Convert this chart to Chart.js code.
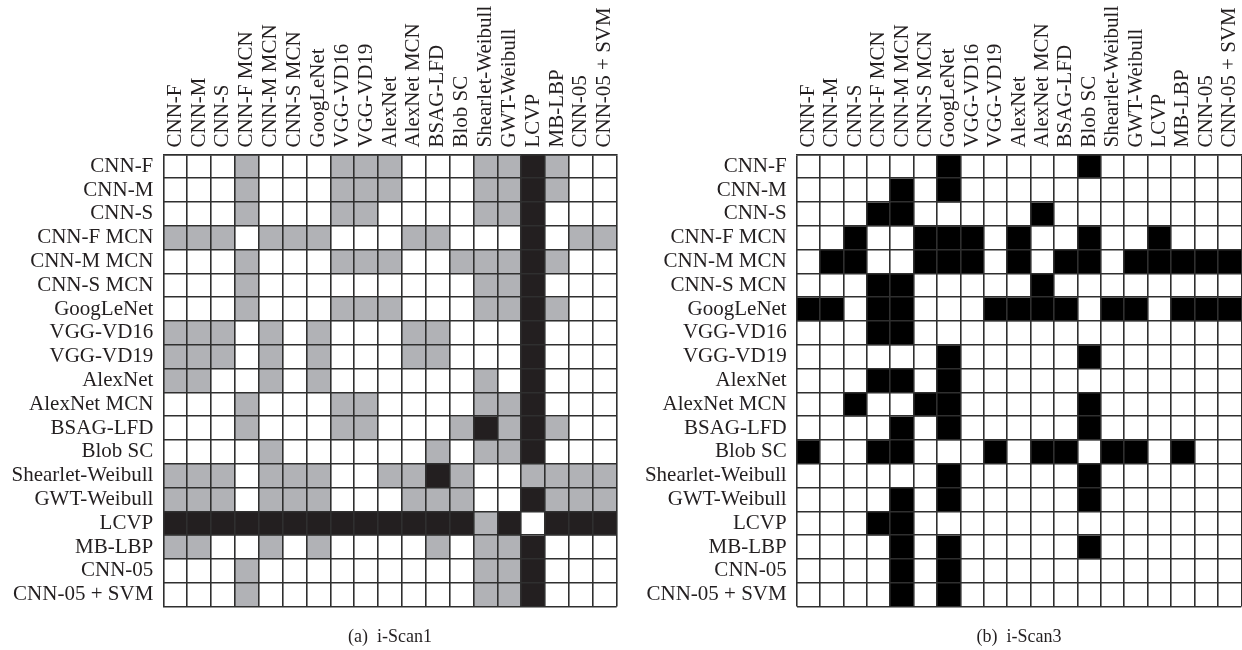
<!DOCTYPE html>
<html>
<head>
<meta charset="utf-8">
<script src="https://cdn.jsdelivr.net/npm/chart.js@4.4.0/dist/chart.umd.min.js"></script>
<style>
html, body { margin: 0; padding: 0; background: #ffffff; }
#wrap { position: relative; width: 1242px; height: 650px; overflow: hidden; background: #ffffff; }
#c1 { position: absolute; left: 0; top: 0; }
#c2 { position: absolute; left: 622px; top: 0; }
</style>
</head>
<body>
<div id="wrap">
  <canvas id="c1" width="622" height="650"></canvas>
  <canvas id="c2" width="620" height="650"></canvas>
</div>
<script>
// Methods (rows and columns of both matrices)
const methods = [
  "CNN-F", "CNN-M", "CNN-S", "CNN-F MCN", "CNN-M MCN", "CNN-S MCN", "GoogLeNet",
  "VGG-VD16", "VGG-VD19", "AlexNet", "AlexNet MCN", "BSAG-LFD", "Blob SC",
  "Shearlet-Weibull", "GWT-Weibull", "LCVP", "MB-LBP", "CNN-05", "CNN-05 + SVM"
];

// (a) i-Scan1 : 0 = white, 1 = gray, 2 = black (one array per row)
const scan1 = [
  [0,0,0,1,0,0,0,1,1,1,0,0,0,1,1,2,1,0,0],
  [0,0,0,1,0,0,0,1,1,1,0,0,0,1,1,2,1,0,0],
  [0,0,0,1,0,0,0,1,1,0,0,0,0,1,1,2,0,0,0],
  [1,1,1,0,1,1,1,0,0,0,1,1,0,0,0,2,0,1,1],
  [0,0,0,1,0,0,0,1,1,1,0,0,1,1,1,2,1,0,0],
  [0,0,0,1,0,0,0,0,0,0,0,0,0,1,1,2,0,0,0],
  [0,0,0,1,0,0,0,1,1,1,0,0,0,1,1,2,1,0,0],
  [1,1,1,0,1,0,1,0,0,0,1,1,0,0,0,2,0,0,0],
  [1,1,1,0,1,0,1,0,0,0,1,1,0,0,0,2,0,0,0],
  [1,1,0,0,1,0,1,0,0,0,0,0,0,1,0,2,0,0,0],
  [0,0,0,1,0,0,0,1,1,0,0,0,0,1,1,2,0,0,0],
  [0,0,0,1,0,0,0,1,1,0,0,0,1,2,1,2,1,0,0],
  [0,0,0,0,1,0,0,0,0,0,0,1,0,1,1,2,0,0,0],
  [1,1,1,0,1,1,1,0,0,1,1,2,1,0,0,1,1,1,1],
  [1,1,1,0,1,1,1,0,0,0,1,1,1,0,0,2,1,1,1],
  [2,2,2,2,2,2,2,2,2,2,2,2,2,1,2,0,2,2,2],
  [1,1,0,0,1,0,1,0,0,0,0,1,0,1,1,2,0,0,0],
  [0,0,0,1,0,0,0,0,0,0,0,0,0,1,1,2,0,0,0],
  [0,0,0,1,0,0,0,0,0,0,0,0,0,1,1,2,0,0,0]
];

// (b) i-Scan3 : 0 = white, 1 = black (one array per row)
const scan3 = [
  [0,0,0,0,0,0,1,0,0,0,0,0,1,0,0,0,0,0,0],
  [0,0,0,0,1,0,1,0,0,0,0,0,0,0,0,0,0,0,0],
  [0,0,0,1,1,0,0,0,0,0,1,0,0,0,0,0,0,0,0],
  [0,0,1,0,0,1,1,1,0,1,0,0,1,0,0,1,0,0,0],
  [0,1,1,0,0,1,1,1,0,1,0,1,1,0,1,1,1,1,1],
  [0,0,0,1,1,0,0,0,0,0,1,0,0,0,0,0,0,0,0],
  [1,1,0,1,1,0,0,0,1,1,1,1,0,1,1,0,1,1,1],
  [0,0,0,1,1,0,0,0,0,0,0,0,0,0,0,0,0,0,0],
  [0,0,0,0,0,0,1,0,0,0,0,0,1,0,0,0,0,0,0],
  [0,0,0,1,1,0,1,0,0,0,0,0,0,0,0,0,0,0,0],
  [0,0,1,0,0,1,1,0,0,0,0,0,1,0,0,0,0,0,0],
  [0,0,0,0,1,0,1,0,0,0,0,0,1,0,0,0,0,0,0],
  [1,0,0,1,1,0,0,0,1,0,1,1,0,1,1,0,1,0,0],
  [0,0,0,0,0,0,1,0,0,0,0,0,1,0,0,0,0,0,0],
  [0,0,0,0,1,0,1,0,0,0,0,0,1,0,0,0,0,0,0],
  [0,0,0,1,1,0,0,0,0,0,0,0,0,0,0,0,0,0,0],
  [0,0,0,0,1,0,1,0,0,0,0,0,1,0,0,0,0,0,0],
  [0,0,0,0,1,0,1,0,0,0,0,0,0,0,0,0,0,0,0],
  [0,0,0,0,1,0,1,0,0,0,0,0,0,0,0,0,0,0,0]
];

const captions = ["(a)  i-Scan1", "(b)  i-Scan3"];
const palette1 = ["#ffffff", "#b1b2b6", "#231f20"];
const palette3 = ["#ffffff", "#000000"];

const FONT = "'Liberation Serif', 'Times New Roman', serif";
const LABEL_SIZE = 21;
const LABEL_LH = 1.2;
const TEXT = "#231f20";
const LINE = "#2f2f2f";

function makeChart(id, matrix, palette, caption, labelWidth, padRight) {
  const datasets = matrix.map((row, r) => ({
    label: methods[r],
    data: methods.map(() => [r, r + 1]),
    backgroundColor: row.map(v => palette[v]),
    borderWidth: 0,
    barPercentage: 1,
    categoryPercentage: 1,
    grouped: false
  }));
  return new Chart(document.getElementById(id), {
    type: 'bar',
    data: { labels: methods, datasets },
    options: {
      responsive: false,
      maintainAspectRatio: false,
      animation: false,
      events: [],
      layout: { padding: { left: 0, right: padRight, top: 0, bottom: 0 } },
      plugins: {
        legend: { display: false },
        tooltip: { enabled: false },
        title: {
          display: true,
          text: caption,
          position: 'bottom',
          fullSize: false,
          align: 'center',
          color: TEXT,
          font: { family: FONT, size: 18, weight: 'normal', lineHeight: 1.2 },
          padding: { top: 19.7, bottom: 2.2 }
        }
      },
      scales: {
        x: {
          type: 'category',
          position: 'top',
          offset: true,
          grid: { offset: true, color: LINE, lineWidth: 1.6, drawTicks: false, z: 1 },
          border: { display: true, color: LINE, width: 1.6, z: 1 },
          ticks: {
            autoSkip: false, minRotation: 90, maxRotation: 90, padding: 7,
            labelOffset: LABEL_SIZE * LABEL_LH,
            color: TEXT, font: { family: FONT, size: LABEL_SIZE, lineHeight: LABEL_LH }
          },
          afterFit: s => { s.height = 154.5; }
        },
        y: {
          type: 'linear',
          min: 0, max: methods.length, reverse: true,
          position: 'left', weight: 0,
          ticks: { display: false, stepSize: 1, maxTicksLimit: 40 },
          grid: { color: LINE, lineWidth: 1.6, drawTicks: false, z: 1 },
          border: { display: false },
          afterFit: s => { s.width = 0; }
        },
        yl: {
          type: 'category',
          labels: methods,
          position: 'left',
          offset: true,
          weight: 1,
          grid: { display: false, drawTicks: false },
          border: { display: false },
          ticks: { autoSkip: false, padding: 10, color: TEXT, font: { family: FONT, size: LABEL_SIZE, lineHeight: LABEL_LH } },
          afterFit: s => { s.width = labelWidth; }
        }
      }
    }
  });
}

makeChart('c1', scan1, palette1, captions[0], 163.3, 5.3);
makeChart('c2', scan3, palette3, captions[1], 174.7, 0.7);
</script>
</body>
</html>
